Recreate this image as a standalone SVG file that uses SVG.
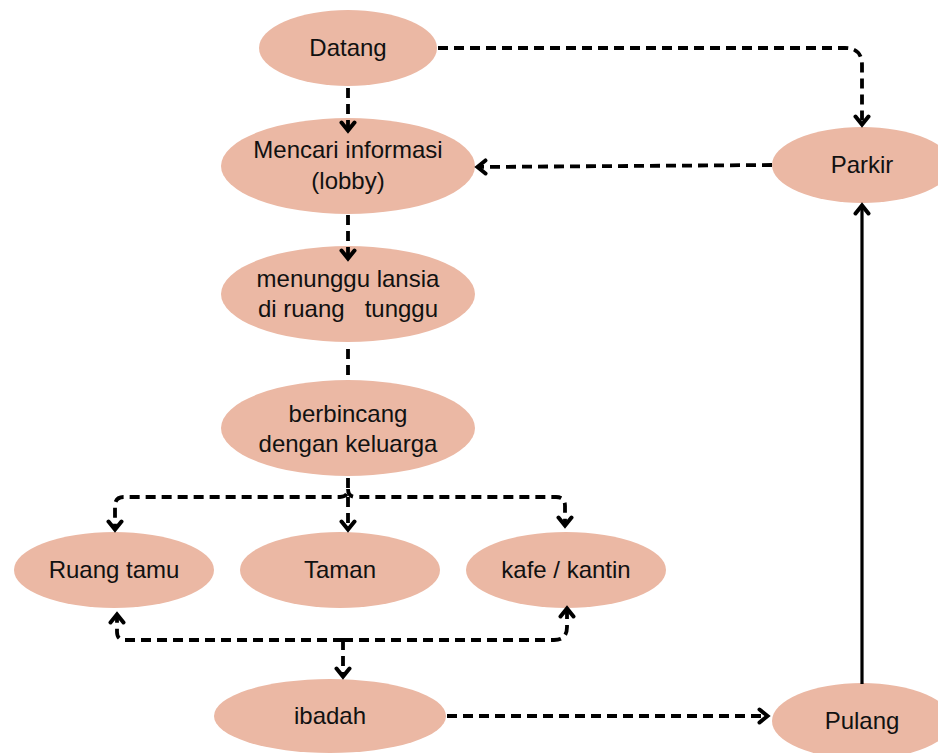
<svg xmlns="http://www.w3.org/2000/svg" width="938" height="753" viewBox="0 0 938 753">
  <style>
    .node ellipse { fill: #EBB8A4; }
    .node text { font-family: "Liberation Sans", Arial, sans-serif; font-size: 24px; fill: #111; text-anchor: middle; white-space: pre; }
    .edge { fill: none; stroke: #000; stroke-width: 3.8; stroke-dasharray: 10 6; }
    .edge.solid { stroke-dasharray: none; stroke-width: 3.2; }
  </style>
  <defs>
    <marker id="arrow" viewBox="0 0 18 18" refX="14.5" refY="9" markerWidth="18" markerHeight="18" markerUnits="userSpaceOnUse" orient="auto">
      <path d="M6,2.5 L14,9 L6,15.5" fill="none" stroke="#000" stroke-width="4" stroke-dasharray="none" stroke-linecap="round" stroke-linejoin="miter"/>
    </marker>
  </defs>

  <rect width="938" height="753" fill="#fff"/>

  <g id="datang" class="node">
    <ellipse cx="348" cy="48" rx="89" ry="38"/>
    <text x="348" y="56">Datang</text>
  </g>
  <g id="mencari-informasi" class="node">
    <ellipse cx="348" cy="166" rx="127" ry="48"/>
    <text x="348" y="158">Mencari informasi</text>
    <text x="348" y="189">(lobby)</text>
  </g>
  <g id="menunggu-lansia" class="node">
    <ellipse cx="348" cy="294" rx="127" ry="48"/>
    <text x="348" y="287">menunggu lansia</text>
    <text x="348" y="317">di ruang   tunggu</text>
  </g>
  <g id="berbincang" class="node">
    <ellipse cx="348" cy="428" rx="127" ry="48"/>
    <text x="348" y="422">berbincang</text>
    <text x="348" y="452">dengan keluarga</text>
  </g>
  <g id="ruang-tamu" class="node">
    <ellipse cx="114" cy="570" rx="100" ry="38"/>
    <text x="114" y="578">Ruang tamu</text>
  </g>
  <g id="taman" class="node">
    <ellipse cx="340" cy="570" rx="100" ry="38"/>
    <text x="340" y="578">Taman</text>
  </g>
  <g id="kafe-kantin" class="node">
    <ellipse cx="566" cy="570" rx="100" ry="38"/>
    <text x="566" y="578">kafe / kantin</text>
  </g>
  <g id="ibadah" class="node">
    <ellipse cx="330" cy="716" rx="116" ry="37"/>
    <text x="330" y="724">ibadah</text>
  </g>
  <g id="parkir" class="node">
    <ellipse cx="862" cy="165" rx="90" ry="38"/>
    <text x="862" y="173">Parkir</text>
  </g>
  <g id="pulang" class="node">
    <ellipse cx="862" cy="721" rx="90" ry="38"/>
    <text x="862" y="729">Pulang</text>
  </g>

  <g id="connectors">
    <path class="edge" d="M438,48 H845 Q862,48 862,65 V125" marker-end="url(#arrow)"/>
    <path class="edge" d="M772,165 L477,167" marker-end="url(#arrow)"/>
    <path class="edge" d="M348,88 V131" marker-end="url(#arrow)"/>
    <path class="edge" d="M348,215 V259" marker-end="url(#arrow)"/>
    <path class="edge" d="M348,349 V378"/>
    <path class="edge" d="M348,478 V489 Q348,497 340,497 H124 Q115,497 115,506 V530" marker-end="url(#arrow)"/>
    <path class="edge" d="M348,489 Q348,497 356,497 H556 Q565,497 565,506 V526" marker-end="url(#arrow)"/>
    <path class="edge" d="M348,497 V530" marker-end="url(#arrow)"/>
    <path class="edge" d="M343,640 H125 Q117,640 117,632 V614" marker-end="url(#arrow)"/>
    <path class="edge" d="M343,640 H554 Q567,640 567,627 V608" marker-end="url(#arrow)"/>
    <path class="edge" d="M343,640 V677" marker-end="url(#arrow)"/>
    <path class="edge" d="M447,716 H768" marker-end="url(#arrow)"/>
    <path class="edge solid" d="M862,684 V205" marker-end="url(#arrow)"/>
  </g>
</svg>
